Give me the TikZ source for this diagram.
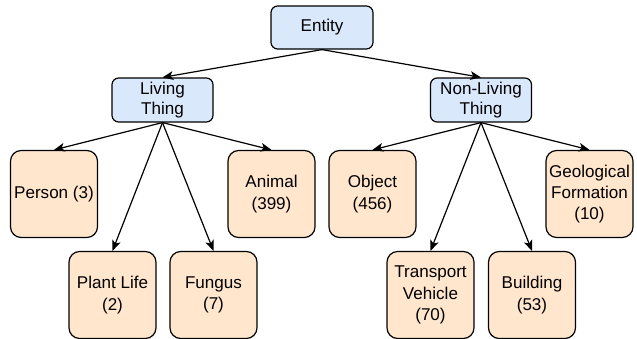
\documentclass[tikz,border=0pt]{standalone}
\usepackage{fontspec}
\setmainfont{Liberation Sans}
\usetikzlibrary{arrows.meta}

\definecolor{classfill}{HTML}{DAE8FC}
\definecolor{leaffill}{HTML}{FFE6CC}
\tikzset{
	classbox/.style={draw, fill=classfill, rounded corners=5pt, line width=0.9pt,
		minimum width=75.75pt, minimum height=33pt, align=center, inner sep=1pt,
		font=\fontsize{12.8}{15.5}\selectfont},
	leafbox/.style={draw, fill=leaffill, rounded corners=8pt, line width=0.9pt,
		minimum width=65.25pt, minimum height=65.25pt, align=center, inner sep=1pt,
		font=\fontsize{12.8}{16}\selectfont},
	edge/.style={-{Stealth[length=8pt, width=6.5pt, inset=2pt]}, line width=0.9pt}
}

\begin{document}
\begin{tikzpicture}[x=0.75pt, y=-0.75pt]
		\useasboundingbox (0, 0) rectangle (637, 339);
		% top level
		\node[classbox, minimum width=76.5pt, minimum height=32.25pt] (entity) at (322, 27.5) {Entity};
		\node[classbox] (living) at (162.5, 100) {Living\\Thing};
		\node[classbox] (nonliving) at (481, 100) {Non-Living\\Thing};
		
		% living things
		\node[leafbox] (person) at (54, 194) {Person (3)};
		\node[leafbox] (animal) at (271.5, 194) {Animal\\(399)};
		\node[leafbox] (plant) at (112.5, 295) {Plant Life\\(2)};
		\node[leafbox] (fungus) at (213.5, 295) {Fungus\\(7)};
		
		% non-living things
		\node[leafbox] (object) at (372.5, 194) {Object\\(456)};
		\node[leafbox] (geoform) at (589.5, 194) {Geological\\Formation\\(10)};
		\node[leafbox] (vehicle) at (430.5, 295) {Transport\\Vehicle\\(70)};
		\node[leafbox] (building) at (532, 295) {Building\\(53)};
		
		\draw[edge] (entity.south) -- (living.north);
		\draw[edge] (entity.south) -- (nonliving.north);
		\foreach \leaf in {person, plant, fungus, animal}
			\draw[edge] (living.south) -- (\leaf.north);
		\foreach \leaf in {object, vehicle, building, geoform}
			\draw[edge] (nonliving.south) -- (\leaf.north);
	\end{tikzpicture}
\end{document}
